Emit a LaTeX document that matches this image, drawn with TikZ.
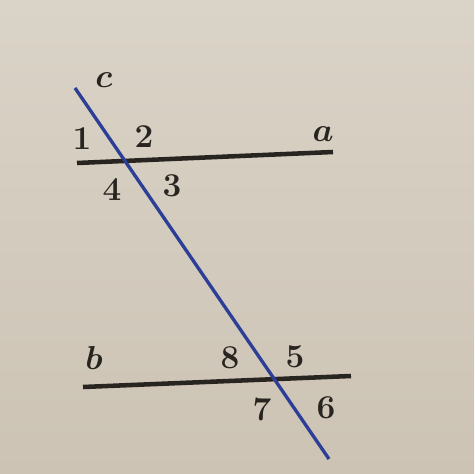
\documentclass[tikz,border=0pt]{standalone}
\usepackage{amsmath}
\usepackage{xcolor}
\definecolor{paper}{RGB}{218,211,199}
\definecolor{paperdark}{RGB}{204,195,180}
\definecolor{ink}{RGB}{40,36,32}
\definecolor{cblue}{RGB}{45,62,150}
\tikzset{
  numlabel/.style={inner sep=0.75pt,text=ink,font=\fontsize{25}{30}\selectfont\bfseries},
  letlabel/.style={inner sep=0.75pt,text=ink,font=\fontsize{25}{30}\selectfont\boldmath}
}

\begin{document}
\begin{tikzpicture}[x=0.75pt,y=0.75pt,yscale=-1,xscale=1]
        % paper
        \shade [top color=paper, bottom color=paperdark] (0,0) rectangle (474,474);
        \useasboundingbox (0,0) rectangle (474,474);

        % end points
        \coordinate (a1) at (77,163);
        \coordinate (a2) at (333,152);
        \coordinate (b1) at (83,387);
        \coordinate (b2) at (351,376);
        \coordinate (c1) at (75,88);
        \coordinate (c2) at (329,459);

        %Straight Lines a and b
        \draw [ink, line width=3.4pt] (a1) -- (a2) ;
        \draw [ink, line width=3.4pt] (b1) -- (b2) ;
        %Straight Lines c
        \draw [cblue, line width=2.5pt] (c1) -- (c2) ;

        % Text Node
        \node [letlabel] (lc) at (104,80) {$c$};
        \node [letlabel] (la) at (323,134) {$a$};
        \node [letlabel] (lb) at (94,358) {$b$};
        % Text Node
        \node [numlabel] (n1) at (82,139) {1};
        \node [numlabel] (n2) at (144,137) {2};
        \node [numlabel] (n3) at (172,186) {3};
        \node [numlabel] (n4) at (112,190) {4};
        \node [numlabel] (n5) at (295,357) {5};
        \node [numlabel] (n6) at (326,408) {6};
        \node [numlabel] (n7) at (262,409) {7};
        \node [numlabel] (n8) at (230,358) {8};
\end{tikzpicture}
\end{document}
